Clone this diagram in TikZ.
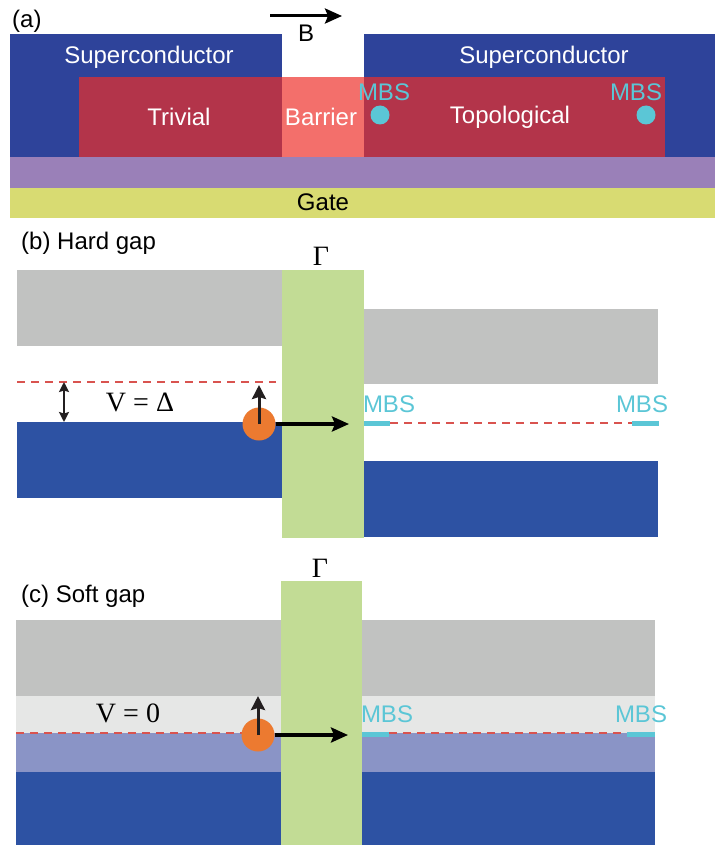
\documentclass[tikz,border=0pt]{standalone}
\usepackage{fontspec}
\setmainfont{Liberation Sans}
\newfontfamily\seriffont{Liberation Serif}
\usetikzlibrary{arrows.meta}
\definecolor{scblue}{HTML}{2E439A}
\definecolor{bandblue}{HTML}{2D52A3}
\definecolor{bandgray}{HTML}{C1C2C1}
\definecolor{lightgray}{HTML}{E6E7E6}
\definecolor{softblue}{HTML}{8A94C6}
\definecolor{barrgreen}{HTML}{C2DC95}
\definecolor{trivred}{HTML}{B3344A}
\definecolor{barrpink}{HTML}{F36F6B}
\definecolor{oxide}{HTML}{9A80B8}
\definecolor{gatey}{HTML}{D8DB72}
\definecolor{mbscyan}{HTML}{5BC6D6}
\definecolor{eorange}{HTML}{EC7A30}
\definecolor{dashred}{HTML}{D9534F}
\definecolor{arrowdark}{HTML}{231F20}
\begin{document}
\begin{tikzpicture}[x=1pt,y=-1pt,
  lbl/.style={font=\fontsize{24}{28}\selectfont, inner sep=0pt},
  wlbl/.style={lbl, text=white},
  mbslbl/.style={lbl, text=mbscyan},
  serlbl/.style={font=\seriffont\fontsize{28}{32}\selectfont, inner sep=0pt},
  electron/.style={circle, fill=eorange, minimum size=33pt, inner sep=0pt},
  mbsdot/.style={circle, fill=mbscyan, minimum size=19pt, inner sep=0pt},
  fermi/.style={dashred, line width=1.3pt, dash pattern=on 8pt off 6pt},
  mbsline/.style={mbscyan, line width=5pt},
  uparrow/.style={arrowdark, line width=3pt, -{Stealth[length=14pt,width=14pt,inset=2pt]}},
  rarrow/.style={black, line width=4pt, -{Stealth[length=17pt,width=15pt,inset=3pt]}},
  barrow/.style={black, line width=3pt, -{Stealth[length=17pt,width=15pt,inset=3pt]}},
  dblarrow/.style={arrowdark, line width=2.5pt, {Stealth[length=10pt,width=10pt,inset=1.5pt]}-{Stealth[length=10pt,width=10pt,inset=1.5pt]}}
]
\useasboundingbox (0,0) rectangle (715,845);

% ---------- panel (a)
\fill[scblue] (10,34) rectangle (282,157);
\fill[scblue] (364,34) rectangle (715,157);
\fill[trivred] (79,77) rectangle (665,157);
\fill[barrpink] (282,77) rectangle (364,157);
\fill[oxide] (10,157) rectangle (715,188);
\fill[gatey] (10,188) rectangle (715,218);
\node[lbl, anchor=west] (la) at (12,21) {(a)};
\coordinate (bstart) at (270,16);
\coordinate (bend) at (342,16);
\draw[barrow] (bstart) -- (bend);
\node[lbl] (bl) at (306,33) {B};
\node[wlbl] (sc1) at (149,57) {Superconductor};
\node[wlbl] (sc2) at (544,57) {Superconductor};
\node[wlbl] (triv) at (179,117) {Trivial};
\node[wlbl] (barr) at (321,117) {Barrier};
\node[wlbl] (topo) at (510,117) {Topological};
\node[mbslbl] (ma1) at (384,92) {MBS};
\node[mbslbl] (ma2) at (636,92) {MBS};
\node[mbsdot] (d1) at (380,115) {};
\node[mbsdot] (d2) at (646,115) {};
\node[lbl] (gate) at (323,202) {Gate};

% ---------- panel (b)
\node[lbl, anchor=west] (lb) at (21,243) {(b) Hard gap};
\fill[bandgray] (17,270) rectangle (282,346);
\fill[bandblue] (17,422) rectangle (282,498);
\fill[bandgray] (364,309) rectangle (658,384);
\fill[bandblue] (364,461) rectangle (658,537);
\fill[barrgreen] (282,270) rectangle (364,538);
\node[serlbl] (gb) at (321,256) {Γ};
\draw[fermi] (17,382) -- (276,382);
\draw[fermi] (390,423) -- (632,423);
\coordinate (vt) at (64,382);
\coordinate (vb) at (64,422);
\draw[dblarrow] (vt) -- (vb);
\node[serlbl] (vb1) at (140,402) {V = Δ};
\node[electron] (e1) at (259,424) {};
\coordinate (up1) at (259,385);
\draw[uparrow] (e1.center) -- (up1);
\coordinate (t1) at (349,424);
\draw[rarrow] (e1.east) -- (t1);
\draw[mbsline] (364,423) -- (390,423);
\draw[mbsline] (632,423) -- (659,423);
\node[mbslbl] (mb1) at (389,404) {MBS};
\node[mbslbl] (mb2) at (642,404) {MBS};

% ---------- panel (c)
\node[lbl, anchor=west] (lc) at (21,596) {(c) Soft gap};
\fill[bandgray] (16,620) rectangle (655,696);
\fill[lightgray] (16,696) rectangle (655,733);
\fill[softblue] (16,733) rectangle (655,772);
\fill[bandblue] (16,772) rectangle (655,845);
\fill[barrgreen] (281,581) rectangle (362,845);
\node[serlbl] (gc) at (320,568) {Γ};
\draw[fermi] (16,733) -- (272,733);
\draw[fermi] (389,733) -- (627,733);
\node[serlbl] (vc1) at (128,713) {V = 0};
\node[electron] (e2) at (258,735) {};
\coordinate (up2) at (258,696);
\draw[uparrow] (e2.center) -- (up2);
\coordinate (t2) at (348,735);
\draw[rarrow] (e2.east) -- (t2);
\draw[mbsline] (362,734) -- (389,734);
\draw[mbsline] (627,734) -- (655,734);
\node[mbslbl] (mc1) at (387,714) {MBS};
\node[mbslbl] (mc2) at (641,714) {MBS};
\end{tikzpicture}
\end{document}
